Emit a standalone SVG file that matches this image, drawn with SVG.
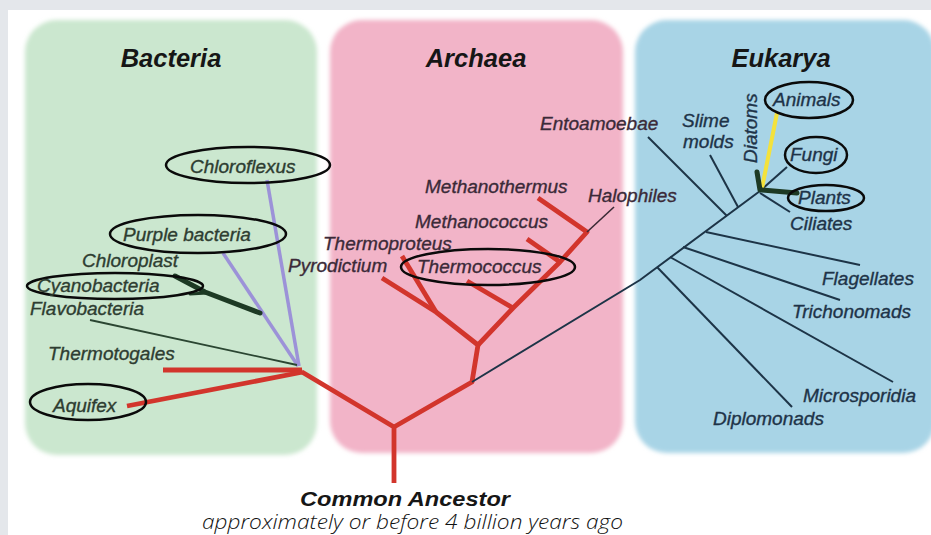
<svg xmlns="http://www.w3.org/2000/svg" width="931" height="535" viewBox="0 0 931 535">
<defs>
<style>
.title{font-family:"Liberation Sans",Arial,sans-serif;font-weight:bold;font-style:italic;font-size:25.5px;fill:#161616}
.lb{font-family:"Liberation Sans",Arial,sans-serif;font-style:italic;font-size:19px;stroke-width:0.35px}
.bac{fill:#2e3d31;stroke:#2e3d31}
.arc{fill:#3b2a38;stroke:#3b2a38}
.euk{fill:#1e3348;stroke:#1e3348}
.ring{fill:none;stroke:#0a0a0a;stroke-width:2.5}
.red{fill:none;stroke:#d2352c;stroke-width:4.8;stroke-linecap:butt;stroke-linejoin:round}
.pur{fill:none;stroke:#9c92d8;stroke-width:3.5}
.dg{fill:none;stroke:#1d3a24;stroke-linecap:round}
.nv{fill:none;stroke:#1d3447;stroke-width:2}
</style>
<filter id="soft" x="-5%" y="-5%" width="110%" height="110%"><feGaussianBlur stdDeviation="2"/></filter>
</defs>
<rect x="0" y="0" width="931" height="535" fill="#e4e7eb"/>
<rect x="8" y="10" width="923" height="525" fill="#ffffff"/>
<g id="panels" filter="url(#soft)">
<rect id="panel-bacteria" x="25" y="20" width="292" height="435" rx="32" fill="#cbe7cf"/>
<rect id="panel-archaea" x="330" y="20" width="293" height="433" rx="32" fill="#f2b4c8"/>
<rect id="panel-eukarya" x="635" y="20" width="300" height="433" rx="32" fill="#a8d4e6"/>
</g>
<text class="title" x="171" y="67" text-anchor="middle">Bacteria</text>
<text class="title" x="476" y="67" text-anchor="middle">Archaea</text>
<text class="title" x="781" y="67" text-anchor="middle">Eukarya</text>
<g id="connectors">
<polyline class="red" points="394,483 394,427 302,372"/>
<line class="red" x1="163" y1="370" x2="302" y2="370"/>
<line class="red" x1="127" y1="406" x2="303" y2="372"/>
<polyline class="red" points="394,427 472,382 478,345 436,312 382,278"/>
<line class="red" x1="402" y1="256" x2="436" y2="312"/>
<polyline class="red" points="478,345 513,308 560,262 587,232 538,198"/>
<line class="red" x1="467" y1="281" x2="513" y2="308"/>
<line class="red" x1="527" y1="239" x2="560" y2="262"/>
<line x1="587" y1="232" x2="614" y2="207" stroke="#3a2a35" stroke-width="1.6"/>
<line class="pur" x1="267" y1="180" x2="299" y2="366"/>
<line class="pur" x1="223" y1="253" x2="298" y2="366"/>
<polyline class="dg" stroke-width="5" points="175,276 205,292 260,313"/>
<line class="dg" stroke-width="3" x1="190" y1="294" x2="207" y2="293"/>
<line x1="90" y1="320" x2="297" y2="365" stroke="#2b4632" stroke-width="1.8"/>
<polyline class="nv" points="472,382 640,280 760,191"/>
<line class="nv" x1="648" y1="137" x2="727" y2="216"/>
<line class="nv" x1="710" y1="155" x2="738" y2="207"/>
<line class="nv" x1="706" y1="232" x2="860" y2="265"/>
<line class="nv" x1="683" y1="247" x2="840" y2="300"/>
<line class="nv" x1="670" y1="257" x2="893" y2="382"/>
<line class="nv" x1="657" y1="267" x2="792" y2="407"/>
<line class="nv" x1="787" y1="167" x2="761" y2="190"/>
<line class="nv" x1="760" y1="193" x2="790" y2="212"/>
<line x1="777" y1="113" x2="762" y2="188" stroke="#f4e23c" stroke-width="4"/>
<line class="dg" stroke-width="5" x1="757" y1="172" x2="760" y2="190"/>
<line class="dg" stroke-width="5" x1="762" y1="190" x2="797" y2="193"/>
</g>
<g id="bacteria-nodes">
<g id="n-chloroflexus"><ellipse class="ring" cx="248" cy="165" rx="82" ry="18"/><text class="lb bac" x="190" y="173">Chloroflexus</text></g>
<g id="n-purple"><ellipse class="ring" cx="198" cy="234" rx="88" ry="19"/><text class="lb bac" x="123" y="241">Purple bacteria</text></g>
<g id="n-chloroplast"><text class="lb bac" x="82" y="267">Chloroplast</text></g>
<g id="n-cyano"><ellipse class="ring" cx="115" cy="286" rx="88" ry="13"/><text class="lb bac" x="37" y="292">Cyanobacteria</text></g>
<g id="n-flavo"><text class="lb bac" x="30" y="315">Flavobacteria</text></g>
<g id="n-thermotogales"><text class="lb bac" x="48" y="360">Thermotogales</text></g>
<g id="n-aquifex"><ellipse class="ring" cx="88" cy="402" rx="58" ry="18"/><text class="lb bac" x="53" y="412">Aquifex</text></g>
</g>
<g id="archaea-nodes">
<g id="n-methanothermus"><text class="lb arc" x="425" y="193">Methanothermus</text></g>
<g id="n-methanococcus"><text class="lb arc" x="415" y="228">Methanococcus</text></g>
<g id="n-thermoproteus"><text class="lb arc" x="323" y="250">Thermoproteus</text></g>
<g id="n-pyrodictium"><text class="lb arc" x="288" y="272">Pyrodictium</text></g>
<g id="n-thermococcus"><ellipse class="ring" cx="488" cy="267" rx="87" ry="18"/><text class="lb arc" x="417" y="273">Thermococcus</text></g>
<g id="n-halophiles"><text class="lb arc" x="588" y="202">Halophiles</text></g>
<g id="n-entoamoebae"><text class="lb arc" x="540" y="130">Entoamoebae</text></g>
</g>
<g id="eukarya-nodes">
<g id="n-slime"><text class="lb euk" x="682" y="127">Slime</text><text class="lb euk" x="683" y="148">molds</text></g>
<g id="n-diatoms"><text class="lb euk" transform="translate(757,163) rotate(-90)" x="0" y="0">Diatoms</text></g>
<g id="n-animals"><ellipse class="ring" cx="809" cy="100" rx="44" ry="18"/><text class="lb euk" x="773" y="106">Animals</text></g>
<g id="n-fungi"><ellipse class="ring" cx="816" cy="155" rx="31" ry="18"/><text class="lb euk" x="790" y="161">Fungi</text></g>
<g id="n-plants"><ellipse class="ring" cx="826" cy="198" rx="38" ry="13"/><text class="lb euk" x="798" y="204">Plants</text></g>
<g id="n-ciliates"><text class="lb euk" x="790" y="230">Ciliates</text></g>
<g id="n-flagellates"><text class="lb euk" x="822" y="285">Flagellates</text></g>
<g id="n-tricho"><text class="lb euk" x="792" y="318">Trichonomads</text></g>
<g id="n-micro"><text class="lb euk" x="803" y="402">Microsporidia</text></g>
<g id="n-diplo"><text class="lb euk" x="713" y="425">Diplomonads</text></g>
</g>
<g id="n-ancestor">
<text x="405" y="506" text-anchor="middle" textLength="210" lengthAdjust="spacingAndGlyphs" style="font-family:'Liberation Sans',Arial,sans-serif;font-weight:bold;font-style:italic;font-size:21px;fill:#161616">Common Ancestor</text>
<text x="202" y="529" textLength="421" lengthAdjust="spacingAndGlyphs" style="font-family:'Open Sans','Liberation Sans',sans-serif;font-weight:300;font-style:italic;font-size:20px;fill:#111">approximately or before 4 billion years ago</text>
</g>
</svg>
